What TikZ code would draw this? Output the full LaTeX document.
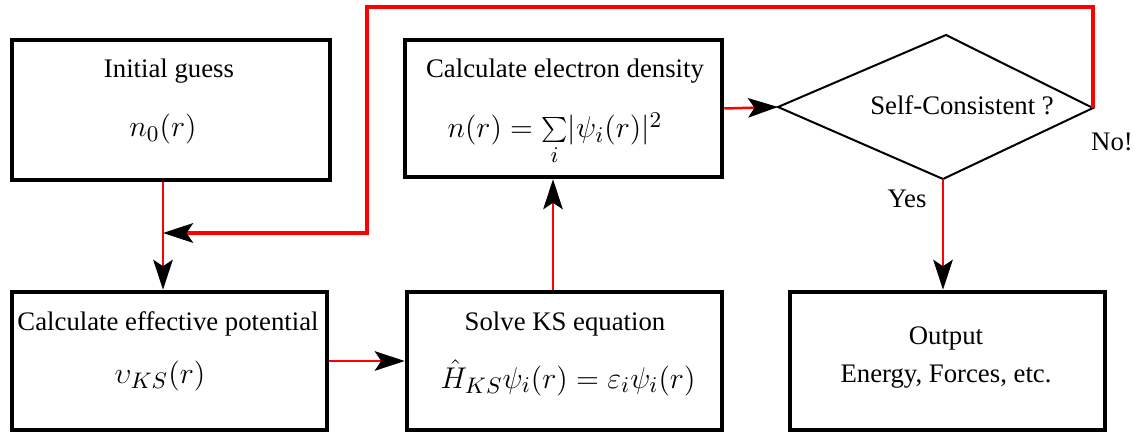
\documentclass[tikz,border=0pt]{standalone}
\usepackage[no-math]{fontspec}
\setmainfont{Liberation Serif}
\usetikzlibrary{arrows.meta}
\begin{document}
\begin{tikzpicture}[x=0.4pt,y=-0.4pt,
  box/.style={draw=black, line width=1.8pt, inner sep=0pt},
  txt/.style={font=\fontsize{10.7}{13}\selectfont, inner sep=0pt, anchor=base},
  mth/.style={font=\fontsize{12.3}{15}\selectfont, inner sep=0pt, anchor=base},
  flow/.style={red, line width=1pt, -{Stealth[length=12pt,width=7.8pt,inset=2.6pt,color=black]}},
  loopback/.style={flow, line width=1.6pt},
  shapeline/.style={black, line width=0.8pt, line join=miter}]
\useasboundingbox (0,0) rectangle (1139,432);

% boxes
\node[box, minimum width=127.2pt, minimum height=56pt] (b1) at (171,110) {};
\node[box, minimum width=126pt, minimum height=55.2pt] (b2) at (169.5,361) {};
\node[box, minimum width=126pt, minimum height=55.2pt] (b3) at (564.5,361) {};
\node[box, minimum width=126.8pt, minimum height=54.8pt] (b4) at (563.5,108.5) {};
\node[box, minimum width=126pt, minimum height=55.2pt] (b5) at (947.5,361) {};

% diamond
\coordinate (dl) at (778,107);
\coordinate (dt) at (946,35);
\coordinate (dr) at (1093,108);
\coordinate (db) at (943,179);
\draw[shapeline] (dl) -- (dt) -- (dr) -- (db) -- cycle;

% texts
\node[txt] (t1) at (169,78) {Initial guess};
\node[mth] (m1) at (163,137) {$n_0(r)$};
\node[txt] (t2) at (168,330) {Calculate effective potential};
\node[mth] (m2) at (160,383) {$\upsilon_{KS}(r)$};
\node[txt] (t3) at (565,330) {Solve KS equation};
\node[mth] (m3) at (568,388) {$\hat{H}_{KS}\psi_i(r)=\varepsilon_i\psi_i(r)$};
\node[txt] (t4) at (565,78) {Calculate electron density};
\node[mth] (m4) at (555,138) {$n(r)=\sum\limits_i\!|\psi_i(r)|^2$};
\node[txt] (t5a) at (946,345) {Output};
\node[txt] (t5b) at (946,382) {Energy, Forces, etc.};
\node[txt] (tq) at (962,115) {Self-Consistent ?};
\node[txt] (tno) at (1112,151) {No!};
\node[txt] (tyes) at (907,208) {Yes};

% junctions
\coordinate (j1) at (163,233);
\coordinate (j2) at (553,250);
\coordinate (fb) at (367,7);

% connectors
\draw[flow] (b1.south -| j1) -- (b2.north -| j1);
\draw[loopback] (dr) |- (fb) |- (j1);
\draw[flow] (b2.east) -- (b3.west);
\draw[flow] (b3.north -| j2) -- (b4.south -| j2);
\draw[flow] (b4.east) -- (dl);
\draw[flow] (db) -- (b5.north -| db);
\end{tikzpicture}
\end{document}
